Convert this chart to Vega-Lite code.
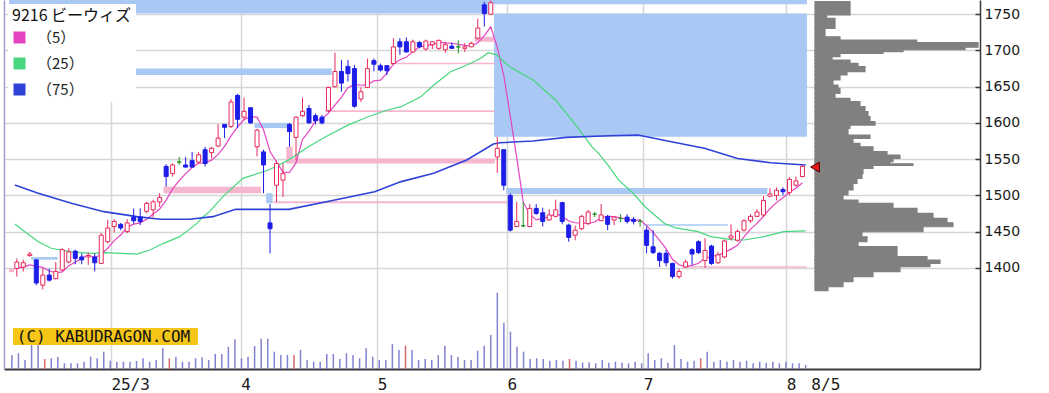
{
"$schema":"https://vega.github.io/schema/vega-lite/v6.json",
"width":976,"height":369,
"autosize":{"type":"none"},
"padding":{"left":4,"top":0,"right":69,"bottom":24},
"background":"white",
"config":{"view":{"stroke":null},"font":"DejaVu Sans"},
"datasets":{
"candles":[
{"i":0,"o":1399,"h":1413,"l":1388,"c":1408,"v":14000},
{"i":1,"o":1401,"h":1411,"l":1395,"c":1407,"v":15700},
{"i":2,"o":1417,"h":1422,"l":1415,"c":1419,"v":9000},
{"i":3,"o":1411,"h":1411,"l":1376,"c":1379,"v":24000},
{"i":4,"o":1376,"h":1399,"l":1370,"c":1390,"v":24000},
{"i":5,"o":1390,"h":1399,"l":1381,"c":1383,"v":10000,"sq":true},
{"i":6,"o":1385,"h":1408,"l":1384,"c":1395,"v":10700},
{"i":7,"o":1397,"h":1427,"l":1395,"c":1425,"v":12300},
{"i":8,"o":1408,"h":1427,"l":1406,"c":1422,"v":5700},
{"i":9,"o":1423,"h":1425,"l":1405,"c":1413,"v":5700},
{"i":10,"o":1415,"h":1420,"l":1405,"c":1411,"v":5700},
{"i":11,"o":1415,"h":1421,"l":1404,"c":1417,"v":7300},
{"i":12,"o":1415,"h":1420,"l":1395,"c":1407,"v":12300},
{"i":13,"o":1406,"h":1448,"l":1405,"c":1445,"v":10700},
{"i":14,"o":1436,"h":1466,"l":1434,"c":1455,"v":17300},
{"i":15,"o":1457,"h":1467,"l":1449,"c":1464,"v":8300},
{"i":16,"o":1460,"h":1462,"l":1452,"c":1455,"v":7300},
{"i":17,"o":1450,"h":1467,"l":1448,"c":1462,"v":7300},
{"i":18,"o":1470,"h":1482,"l":1461,"c":1465,"v":7300},
{"i":19,"o":1470,"h":1482,"l":1459,"c":1464,"v":8000},
{"i":20,"o":1478,"h":1491,"l":1475,"c":1489,"v":10700},
{"i":21,"o":1480,"h":1494,"l":1470,"c":1491,"v":7300},
{"i":22,"o":1491,"h":1503,"l":1484,"c":1497,"v":9000},
{"i":23,"o":1540,"h":1543,"l":1512,"c":1526,"v":20700},
{"i":24,"o":1530,"h":1544,"l":1526,"c":1542,"v":10700,"sq":true},
{"i":25,"o":1546,"h":1553,"l":1542,"c":1546,"v":12300},
{"i":26,"o":1542,"h":1553,"l":1539,"c":1539,"v":7300},
{"i":27,"o":1548,"h":1560,"l":1539,"c":1539,"v":7300},
{"i":28,"o":1546,"h":1560,"l":1544,"c":1556,"v":10700},
{"i":29,"o":1563,"h":1567,"l":1540,"c":1544,"v":11700},
{"i":30,"o":1559,"h":1567,"l":1551,"c":1565,"v":9000},
{"i":31,"o":1568,"h":1598,"l":1567,"c":1579,"v":15000},
{"i":32,"o":1598,"h":1598,"l":1579,"c":1594,"v":15000},
{"i":33,"o":1595,"h":1633,"l":1593,"c":1629,"v":22300},
{"i":34,"o":1638,"h":1640,"l":1593,"c":1605,"v":29700},
{"i":35,"o":1608,"h":1635,"l":1604,"c":1616,"v":10700},
{"i":36,"o":1621,"h":1621,"l":1599,"c":1600,"v":12300},
{"i":37,"o":1567,"h":1592,"l":1554,"c":1590,"v":23000},
{"i":38,"o":1560,"h":1563,"l":1503,"c":1542,"v":30300},
{"i":39,"o":1462,"h":1488,"l":1420,"c":1454,"v":30300},
{"i":40,"o":1514,"h":1548,"l":1491,"c":1544,"v":17300},
{"i":41,"o":1521,"h":1544,"l":1498,"c":1530,"v":14000},
{"i":42,"o":1598,"h":1600,"l":1567,"c":1588,"v":14000},
{"i":43,"o":1580,"h":1609,"l":1549,"c":1608,"v":14000,"sq":true},
{"i":44,"o":1610,"h":1635,"l":1608,"c":1616,"v":19000},
{"i":45,"o":1620,"h":1625,"l":1599,"c":1600,"v":9000},
{"i":46,"o":1610,"h":1613,"l":1598,"c":1603,"v":7300},
{"i":47,"o":1608,"h":1611,"l":1598,"c":1600,"v":7300},
{"i":48,"o":1617,"h":1650,"l":1615,"c":1649,"v":15000},
{"i":49,"o":1650,"h":1697,"l":1649,"c":1671,"v":15000},
{"i":50,"o":1671,"h":1687,"l":1643,"c":1655,"v":10000},
{"i":51,"o":1678,"h":1687,"l":1657,"c":1668,"v":15700},
{"i":52,"o":1675,"h":1680,"l":1621,"c":1623,"v":14000},
{"i":53,"o":1633,"h":1649,"l":1629,"c":1643,"v":10700},
{"i":54,"o":1649,"h":1689,"l":1648,"c":1675,"v":20700},
{"i":55,"o":1686,"h":1689,"l":1671,"c":1681,"v":12300},
{"i":56,"o":1679,"h":1682,"l":1671,"c":1673,"v":9000},
{"i":57,"o":1679,"h":1680,"l":1666,"c":1672,"v":9000},
{"i":58,"o":1682,"h":1717,"l":1680,"c":1705,"v":25000},
{"i":59,"o":1712,"h":1717,"l":1694,"c":1705,"v":19000},
{"i":60,"o":1712,"h":1718,"l":1697,"c":1698,"v":23300,"sq":true},
{"i":61,"o":1698,"h":1715,"l":1697,"c":1712,"v":19000},
{"i":62,"o":1711,"h":1713,"l":1703,"c":1705,"v":9000},
{"i":63,"o":1702,"h":1715,"l":1700,"c":1713,"v":10000},
{"i":64,"o":1708,"h":1713,"l":1702,"c":1712,"v":9000},
{"i":65,"o":1703,"h":1715,"l":1701,"c":1714,"v":14000},
{"i":66,"o":1701,"h":1712,"l":1697,"c":1708,"v":23300},
{"i":67,"o":1706,"h":1711,"l":1703,"c":1703,"v":14000},
{"i":68,"o":1705,"h":1714,"l":1696,"c":1705,"v":12300},
{"i":69,"o":1703,"h":1710,"l":1698,"c":1705,"v":9000},
{"i":70,"o":1705,"h":1712,"l":1705,"c":1710,"v":9000},
{"i":71,"o":1717,"h":1744,"l":1715,"c":1731,"v":18300},
{"i":72,"o":1763,"h":1767,"l":1733,"c":1751,"v":23300},
{"i":73,"o":1750,"h":1769,"l":1750,"c":1766,"v":34000},
{"i":74,"o":1553,"h":1581,"l":1531,"c":1565,"v":76300},
{"i":75,"o":1563,"h":1563,"l":1507,"c":1514,"v":46300},
{"i":76,"o":1500,"h":1503,"l":1450,"c":1452,"v":37300},
{"i":77,"o":1457,"h":1491,"l":1456,"c":1464,"v":22300},
{"i":78,"o":1458,"h":1491,"l":1456,"c":1458,"v":17300},
{"i":79,"o":1457,"h":1488,"l":1456,"c":1482,"v":10000},
{"i":80,"o":1482,"h":1488,"l":1473,"c":1475,"v":10700},
{"i":81,"o":1476,"h":1483,"l":1457,"c":1464,"v":10000},
{"i":82,"o":1466,"h":1481,"l":1465,"c":1473,"v":8300},
{"i":83,"o":1471,"h":1494,"l":1470,"c":1480,"v":9000},
{"i":84,"o":1490,"h":1491,"l":1460,"c":1464,"v":8300},
{"i":85,"o":1459,"h":1461,"l":1436,"c":1442,"v":10000,"sq":true},
{"i":86,"o":1445,"h":1458,"l":1438,"c":1452,"v":8300},
{"i":87,"o":1454,"h":1473,"l":1452,"c":1471,"v":6300},
{"i":88,"o":1461,"h":1480,"l":1459,"c":1477,"v":6700},
{"i":89,"o":1474,"h":1477,"l":1470,"c":1474,"v":5700},
{"i":90,"o":1465,"h":1488,"l":1465,"c":1473,"v":9000},
{"i":91,"o":1471,"h":1473,"l":1452,"c":1460,"v":6300},
{"i":92,"o":1466,"h":1470,"l":1459,"c":1470,"v":7300},
{"i":93,"o":1468,"h":1474,"l":1463,"c":1468,"v":6300},
{"i":94,"o":1470,"h":1474,"l":1461,"c":1464,"v":5700},
{"i":95,"o":1467,"h":1470,"l":1460,"c":1464,"v":7300},
{"i":96,"o":1464,"h":1467,"l":1457,"c":1464,"v":5700},
{"i":97,"o":1452,"h":1457,"l":1420,"c":1431,"v":15700},
{"i":98,"o":1429,"h":1452,"l":1419,"c":1421,"v":9000},
{"i":99,"o":1420,"h":1422,"l":1401,"c":1410,"v":10700},
{"i":100,"o":1420,"h":1425,"l":1402,"c":1407,"v":6300},
{"i":101,"o":1406,"h":1407,"l":1385,"c":1388,"v":24000},
{"i":102,"o":1388,"h":1399,"l":1385,"c":1395,"v":10000},
{"i":103,"o":1401,"h":1411,"l":1400,"c":1408,"v":7300},
{"i":104,"o":1425,"h":1427,"l":1404,"c":1419,"v":8300},
{"i":105,"o":1436,"h":1438,"l":1419,"c":1421,"v":10700,"sq":true},
{"i":106,"o":1410,"h":1441,"l":1400,"c":1424,"v":17300},
{"i":107,"o":1430,"h":1432,"l":1404,"c":1406,"v":7300},
{"i":108,"o":1407,"h":1422,"l":1405,"c":1418,"v":9000},
{"i":109,"o":1415,"h":1439,"l":1413,"c":1437,"v":7300},
{"i":110,"o":1441,"h":1460,"l":1438,"c":1444,"v":9000},
{"i":111,"o":1438,"h":1453,"l":1436,"c":1450,"v":7300},
{"i":112,"o":1452,"h":1467,"l":1450,"c":1465,"v":8300},
{"i":113,"o":1465,"h":1474,"l":1462,"c":1471,"v":5700},
{"i":114,"o":1471,"h":1481,"l":1470,"c":1477,"v":7300},
{"i":115,"o":1473,"h":1499,"l":1470,"c":1493,"v":6300},
{"i":116,"o":1499,"h":1510,"l":1497,"c":1502,"v":7300},
{"i":117,"o":1500,"h":1511,"l":1493,"c":1507,"v":5700},
{"i":118,"o":1508,"h":1511,"l":1500,"c":1505,"v":7300},
{"i":119,"o":1504,"h":1525,"l":1500,"c":1522,"v":5700},
{"i":120,"o":1514,"h":1526,"l":1512,"c":1520,"v":5700},
{"i":121,"o":1526,"h":1542,"l":1525,"c":1540,"v":4000}
],
"ma":[
{"s":"m5","i":0,"v":1400},{"s":"m5","i":1,"v":1401},{"s":"m5","i":2,"v":1404},{"s":"m5","i":3,"v":1402},{"s":"m5","i":4,"v":1400.6},{"s":"m5","i":5,"v":1395.6},{"s":"m5","i":6,"v":1393.2},{"s":"m5","i":7,"v":1394.4},{"s":"m5","i":8,"v":1403},{"s":"m5","i":9,"v":1407.6},
{"s":"m5","i":10,"v":1413.2},{"s":"m5","i":11,"v":1417.6},{"s":"m5","i":12,"v":1414},{"s":"m5","i":13,"v":1418.6},{"s":"m5","i":14,"v":1427},{"s":"m5","i":15,"v":1437.6},{"s":"m5","i":16,"v":1445.2},{"s":"m5","i":17,"v":1456.2},{"s":"m5","i":18,"v":1460.2},{"s":"m5","i":19,"v":1462},
{"s":"m5","i":20,"v":1467},{"s":"m5","i":21,"v":1474.2},{"s":"m5","i":22,"v":1481.2},{"s":"m5","i":23,"v":1493.4},{"s":"m5","i":24,"v":1509},{"s":"m5","i":25,"v":1520.4},{"s":"m5","i":26,"v":1530},{"s":"m5","i":27,"v":1538.4},{"s":"m5","i":28,"v":1544.4},{"s":"m5","i":29,"v":1544.8},
{"s":"m5","i":30,"v":1548.6},{"s":"m5","i":31,"v":1556.6},{"s":"m5","i":32,"v":1567.6},{"s":"m5","i":33,"v":1582.2},{"s":"m5","i":34,"v":1594.4},{"s":"m5","i":35,"v":1604.6},{"s":"m5","i":36,"v":1608.8},{"s":"m5","i":37,"v":1608},{"s":"m5","i":38,"v":1590.6},{"s":"m5","i":39,"v":1560.4},
{"s":"m5","i":40,"v":1546},{"s":"m5","i":41,"v":1532},{"s":"m5","i":42,"v":1531.6},{"s":"m5","i":43,"v":1544.8},{"s":"m5","i":44,"v":1577.2},{"s":"m5","i":45,"v":1588.4},{"s":"m5","i":46,"v":1603},{"s":"m5","i":47,"v":1605.4},{"s":"m5","i":48,"v":1613.6},{"s":"m5","i":49,"v":1624.6},
{"s":"m5","i":50,"v":1635.6},{"s":"m5","i":51,"v":1648.6},{"s":"m5","i":52,"v":1653.2},{"s":"m5","i":53,"v":1652},{"s":"m5","i":54,"v":1652.8},{"s":"m5","i":55,"v":1658},{"s":"m5","i":56,"v":1659},{"s":"m5","i":57,"v":1668.8},{"s":"m5","i":58,"v":1681.2},{"s":"m5","i":59,"v":1687.2},
{"s":"m5","i":60,"v":1690.6},{"s":"m5","i":61,"v":1698.4},{"s":"m5","i":62,"v":1705},{"s":"m5","i":63,"v":1706.6},{"s":"m5","i":64,"v":1708},{"s":"m5","i":65,"v":1711.2},{"s":"m5","i":66,"v":1710.4},{"s":"m5","i":67,"v":1710},{"s":"m5","i":68,"v":1708.4},{"s":"m5","i":69,"v":1707},
{"s":"m5","i":70,"v":1706.2},{"s":"m5","i":71,"v":1710.8},{"s":"m5","i":72,"v":1720.4},{"s":"m5","i":73,"v":1732.6},{"s":"m5","i":74,"v":1704.6},{"s":"m5","i":75,"v":1665.4},{"s":"m5","i":76,"v":1609.6},{"s":"m5","i":77,"v":1552.2},{"s":"m5","i":78,"v":1490.6},{"s":"m5","i":79,"v":1474},
{"s":"m5","i":80,"v":1466.2},{"s":"m5","i":81,"v":1468.6},{"s":"m5","i":82,"v":1470.4},{"s":"m5","i":83,"v":1474.8},{"s":"m5","i":84,"v":1471.2},{"s":"m5","i":85,"v":1464.6},{"s":"m5","i":86,"v":1462.2},{"s":"m5","i":87,"v":1461.8},{"s":"m5","i":88,"v":1461.2},{"s":"m5","i":89,"v":1463.2},
{"s":"m5","i":90,"v":1469.4},{"s":"m5","i":91,"v":1471},{"s":"m5","i":92,"v":1470.8},{"s":"m5","i":93,"v":1469},{"s":"m5","i":94,"v":1467},{"s":"m5","i":95,"v":1465.2},{"s":"m5","i":96,"v":1466},{"s":"m5","i":97,"v":1458.2},{"s":"m5","i":98,"v":1448.8},{"s":"m5","i":99,"v":1438},
{"s":"m5","i":100,"v":1426.6},{"s":"m5","i":101,"v":1411.4},{"s":"m5","i":102,"v":1404.2},{"s":"m5","i":103,"v":1401.6},{"s":"m5","i":104,"v":1403.4},{"s":"m5","i":105,"v":1406.2},{"s":"m5","i":106,"v":1413.4},{"s":"m5","i":107,"v":1415.6},{"s":"m5","i":108,"v":1417.6},{"s":"m5","i":109,"v":1421.2},
{"s":"m5","i":110,"v":1425.8},{"s":"m5","i":111,"v":1431},{"s":"m5","i":112,"v":1442.8},{"s":"m5","i":113,"v":1453.4},{"s":"m5","i":114,"v":1461.4},{"s":"m5","i":115,"v":1471.2},{"s":"m5","i":116,"v":1481.6},{"s":"m5","i":117,"v":1490},{"s":"m5","i":118,"v":1496.8},{"s":"m5","i":119,"v":1504.4},
{"s":"m5","i":120,"v":1509.8},{"s":"m5","i":121,"v":1517.4},
{"s":"m25","i":-0.3,"v":1460.5},{"s":"m25","i":1.2,"v":1450},{"s":"m25","i":3.3,"v":1436},{"s":"m25","i":5.3,"v":1427},{"s":"m25","i":8.4,"v":1422},{"s":"m25","i":11.4,"v":1420},{"s":"m25","i":13.4,"v":1421},{"s":"m25","i":16,"v":1420},{"s":"m25","i":18.5,"v":1419},{"s":"m25","i":20.5,"v":1424.6},
{"s":"m25","i":22.6,"v":1433.8},{"s":"m25","i":25.1,"v":1443},{"s":"m25","i":27.7,"v":1461},{"s":"m25","i":28.7,"v":1470.6},{"s":"m25","i":29.7,"v":1477.5},{"s":"m25","i":31.7,"v":1498},{"s":"m25","i":34.8,"v":1523.5},{"s":"m25","i":38.8,"v":1535},{"s":"m25","i":41.9,"v":1549},{"s":"m25","i":44.9,"v":1567},
{"s":"m25","i":48,"v":1583},{"s":"m25","i":51,"v":1597},{"s":"m25","i":54.1,"v":1608.6},{"s":"m25","i":57.1,"v":1617.8},{"s":"m25","i":59.2,"v":1622.4},{"s":"m25","i":60.7,"v":1629.3},{"s":"m25","i":62.2,"v":1636},{"s":"m25","i":64.2,"v":1652},{"s":"m25","i":66.8,"v":1670.7},{"s":"m25","i":69.3,"v":1680},
{"s":"m25","i":71.4,"v":1689},{"s":"m25","i":72.6,"v":1697},{"s":"m25","i":73.9,"v":1694},{"s":"m25","i":75.9,"v":1677.6},{"s":"m25","i":79.5,"v":1659.3},{"s":"m25","i":83,"v":1631.6},{"s":"m25","i":86.1,"v":1597},{"s":"m25","i":88.6,"v":1567},{"s":"m25","i":89.6,"v":1558},{"s":"m25","i":91.2,"v":1540},
{"s":"m25","i":92.7,"v":1521},{"s":"m25","i":94.7,"v":1505},{"s":"m25","i":96.8,"v":1484},{"s":"m25","i":99.8,"v":1461},{"s":"m25","i":101.5,"v":1455},{"s":"m25","i":104.9,"v":1450},{"s":"m25","i":106.9,"v":1443},{"s":"m25","i":110,"v":1439},{"s":"m25","i":112,"v":1438.4},{"s":"m25","i":115.1,"v":1443},
{"s":"m25","i":118.1,"v":1450},{"s":"m25","i":121.5,"v":1451},
{"s":"m75","i":-0.3,"v":1514.3},{"s":"m75","i":3.3,"v":1502.8},{"s":"m75","i":8.4,"v":1489},{"s":"m75","i":13.4,"v":1477.5},{"s":"m75","i":18.5,"v":1470.6},{"s":"m75","i":22.1,"v":1467},{"s":"m75","i":26.6,"v":1467},{"s":"m75","i":30.2,"v":1470.6},{"s":"m75","i":33.7,"v":1480.7},{"s":"m75","i":41.9,"v":1480.7},
{"s":"m75","i":49,"v":1493.6},{"s":"m75","i":55.1,"v":1505},{"s":"m75","i":59.2,"v":1519},{"s":"m75","i":64.2,"v":1530.5},{"s":"m75","i":69.3,"v":1548.8},{"s":"m75","i":73.4,"v":1570.9},{"s":"m75","i":74.4,"v":1572.7},{"s":"m75","i":79.5,"v":1575},{"s":"m75","i":84.6,"v":1580},{"s":"m75","i":91.2,"v":1582.3},
{"s":"m75","i":95.7,"v":1583.3},{"s":"m75","i":100.8,"v":1574},{"s":"m75","i":105.9,"v":1565},{"s":"m75","i":111,"v":1551},{"s":"m75","i":116.1,"v":1545},{"s":"m75","i":121.5,"v":1542}
],
"zones":[
{"k":"b","lo":1751,"hi":1770,"a":-1.2,"b":73.2},
{"k":"b","lo":1764,"hi":1770,"a":73.2,"b":121.7},
{"k":"b","lo":1581,"hi":1751,"a":73.5,"b":121.7},
{"k":"b","lo":1666,"hi":1675,"a":-1.2,"b":48.5},
{"k":"b","lo":1411,"hi":1415,"a":2.2,"b":6.3},
{"k":"b","lo":1593,"hi":1600,"a":36.6,"b":41.9},
{"k":"b","lo":1489,"hi":1503,"a":38.4,"b":39.4},
{"k":"b","lo":1502,"hi":1510,"a":75.4,"b":115.6},
{"k":"b","lo":1458,"hi":1460,"a":96.5,"b":109.5},
{"k":"p","lo":1394,"hi":1399,"a":-1.2,"b":-0.4},
{"k":"p","lo":1503,"hi":1512,"a":22.6,"b":37.6},
{"k":"p","lo":1544,"hi":1567,"a":41.5,"b":42.5},
{"k":"p","lo":1544,"hi":1551,"a":42.5,"b":73.6},
{"k":"p","lo":1615,"hi":1617.5,"a":47.5,"b":73.6},
{"k":"p","lo":1681,"hi":1683,"a":57.5,"b":73.6},
{"k":"p","lo":1712,"hi":1719,"a":70.5,"b":73.6},
{"k":"p","lo":1489,"hi":1492,"a":39.5,"b":75.5},
{"k":"p","lo":1400,"hi":1402,"a":102.5,"b":121.7}
],
"profile":[
{"lo":1749,"hi":1767.4,"v":35},{"lo":1744.4,"hi":1749,"v":11.7},{"lo":1730.6,"hi":1744.4,"v":20},{"lo":1719,"hi":1730.6,"v":10},{"lo":1714.5,"hi":1719,"v":25},{"lo":1711,"hi":1714.5,"v":101.7},{"lo":1704.5,"hi":1711,"v":163},{"lo":1701,"hi":1704.5,"v":150},{"lo":1698.5,"hi":1701,"v":88},{"lo":1696.1,"hi":1698.5,"v":68},
{"lo":1691.4,"hi":1696.1,"v":25},{"lo":1686.9,"hi":1691.4,"v":17},{"lo":1682.3,"hi":1686.9,"v":35},{"lo":1677.6,"hi":1682.3,"v":43},{"lo":1670.7,"hi":1677.6,"v":50},{"lo":1666.2,"hi":1670.7,"v":32},{"lo":1659.3,"hi":1666.2,"v":25},{"lo":1652.3,"hi":1659.3,"v":18},{"lo":1647.8,"hi":1652.3,"v":23},{"lo":1640.9,"hi":1647.8,"v":25},
{"lo":1634,"hi":1640.9,"v":20},{"lo":1629.3,"hi":1634,"v":35},{"lo":1622.4,"hi":1629.3,"v":45},{"lo":1615.5,"hi":1622.4,"v":50},{"lo":1608.6,"hi":1615.5,"v":53},{"lo":1601.7,"hi":1608.6,"v":55},{"lo":1597.1,"hi":1601.7,"v":60},{"lo":1592.6,"hi":1597.1,"v":35},{"lo":1583.3,"hi":1592.6,"v":33},{"lo":1578.8,"hi":1583.3,"v":55},
{"lo":1571.9,"hi":1578.8,"v":38},{"lo":1567.1,"hi":1571.9,"v":45},{"lo":1560.3,"hi":1567.1,"v":58},{"lo":1555.7,"hi":1560.3,"v":72},{"lo":1551.1,"hi":1555.7,"v":85},{"lo":1546.5,"hi":1551.1,"v":78},{"lo":1543.5,"hi":1546.5,"v":75},{"lo":1541.5,"hi":1543.5,"v":98},{"lo":1537.3,"hi":1541.5,"v":58},{"lo":1530.4,"hi":1537.3,"v":48},
{"lo":1523.5,"hi":1530.4,"v":47},{"lo":1516.6,"hi":1523.5,"v":42},{"lo":1507.4,"hi":1516.6,"v":38},{"lo":1500.5,"hi":1507.4,"v":33},{"lo":1493.6,"hi":1500.5,"v":28},{"lo":1489,"hi":1493.6,"v":43},{"lo":1482.1,"hi":1489,"v":78},{"lo":1475.2,"hi":1482.1,"v":102},{"lo":1468.3,"hi":1475.2,"v":118},{"lo":1462.2,"hi":1468.3,"v":132},
{"lo":1456.7,"hi":1462.2,"v":138},{"lo":1449.8,"hi":1456.7,"v":108},{"lo":1442.9,"hi":1449.8,"v":47},{"lo":1436,"hi":1442.9,"v":52},{"lo":1429.1,"hi":1436,"v":43},{"lo":1424.6,"hi":1429.1,"v":82},{"lo":1415.3,"hi":1424.6,"v":82},{"lo":1410.7,"hi":1415.3,"v":112},{"lo":1406.2,"hi":1410.7,"v":125},{"lo":1401.5,"hi":1406.2,"v":115},
{"lo":1394.6,"hi":1401.5,"v":85},{"lo":1387.7,"hi":1394.6,"v":58},{"lo":1380.8,"hi":1387.7,"v":38},{"lo":1373.9,"hi":1380.8,"v":28},{"lo":1368.4,"hi":1373.9,"v":13}
]
},
"layer":[
{
"data":{"name":"candles"},
"mark":{"type":"rule","strokeWidth":1.5},
"encoding":{
"x":{"field":"i","type":"quantitative","scale":{"domain":[-1.204,147.58],"nice":false,"zero":false},"axis":null},
"y":{"field":"v","type":"quantitative","scale":{"domain":[0,369000],"nice":false,"zero":false},"axis":{"orient":"left","labels":false,"ticks":false,"grid":false,"domain":true,"domainColor":"#9d9dd2","domainWidth":1.5,"title":null}},
"y2":{"datum":0},
"color":{"condition":{"test":"datum.sq","value":"#d46a6a"},"value":"#8282d2"}
}
},
{
"layer":[
{
"data":{"name":"zones"},
"mark":{"type":"rect"},
"encoding":{
"x":{"field":"a","type":"quantitative","scale":{"domain":[-1.204,147.58],"nice":false,"zero":false},"title":null,
"axis":{"orient":"bottom","values":[14.5,34.5,55.5,75.5,96.5,118.5,122.3],"labelExpr":"datum.value == 14.5 ? '25/3' : datum.value == 34.5 ? '4' : datum.value == 55.5 ? '5' : datum.value == 75.5 ? '6' : datum.value == 96.5 ? '7' : datum.value == 118.5 ? '8' : '8/5'","grid":true,"gridColor":{"condition":{"test":"datum.value > 120","value":"rgba(0,0,0,0)"},"value":"#d6d6d6"},"gridWidth":1.5,"ticks":false,"tickSize":0,"domainColor":"#3a3a3a","domainWidth":2,"labelAlign":"left","labelPadding":7,"labelFont":"DejaVu Sans Mono","labelFontSize":16,"labelColor":"#1a1a1a","labelBound":false,"labelOverlap":false,"labelFlush":false,"title":null}},
"x2":{"field":"b"},
"y":{"field":"lo","type":"quantitative","scale":{"domain":[1260.3,1769.7],"nice":false,"zero":false},"title":null,
"axis":{"orient":"right","values":[1400,1450,1500,1550,1600,1650,1700,1750],"format":"d","grid":true,"gridColor":"#d6d6d6","gridWidth":1.5,"domainColor":"#3a3a3a","domainWidth":1.5,"tickColor":"#3a3a3a","tickSize":-5,"tickWidth":1.5,"labelPadding":9,"labelFont":"DejaVu Sans","labelFontSize":14,"labelColor":"#1a1a1a","title":null}},
"y2":{"field":"hi"},
"color":{"condition":{"test":"datum.k == 'b'","value":"#a9c9f4"},"value":"#f5b6cf"}
}
},
{
"data":{"values":[{"t":"(C) KABUDRAGON.COM"}]},
"mark":{"type":"rect","color":"#f5c518"},
"encoding":{
"x":{"datum":-0.6,"type":"quantitative","scale":{"domain":[-1.204,147.58],"nice":false,"zero":false},"title":null},
"x2":{"datum":27.9},
"y":{"datum":1293.4,"type":"quantitative","scale":{"domain":[1260.3,1769.7],"nice":false,"zero":false},"title":null},
"y2":{"datum":1316.9}
}
},
{
"data":{"values":[{"t":"(C) KABUDRAGON.COM"}]},
"mark":{"type":"text","align":"left","baseline":"middle","font":"DejaVu Sans Mono","fontSize":16,"color":"#111111"},
"encoding":{
"x":{"datum":0,"type":"quantitative","scale":{"domain":[-1.204,147.58],"nice":false,"zero":false},"title":null},
"y":{"datum":1305,"type":"quantitative","scale":{"domain":[1260.3,1769.7],"nice":false,"zero":false},"title":null},
"text":{"field":"t"}
}
},
{
"data":{"name":"ma"},
"mark":{"type":"line","interpolate":"linear"},
"encoding":{
"x":{"field":"i","type":"quantitative","scale":{"domain":[-1.204,147.58],"nice":false,"zero":false},"title":null},
"y":{"field":"v","type":"quantitative","scale":{"domain":[1260.3,1769.7],"nice":false,"zero":false},"title":null},
"color":{"field":"s","type":"nominal","scale":{"domain":["m5","m25","m75"],"range":["#e444c2","#48d67e","#2e42d8"]},
"legend":{"title":"9216 ビーウィズ","orient":"top-left","offset":4,"padding":4,"fillColor":"#ffffff","symbolType":"square","symbolSize":144,"symbolStrokeWidth":0,"labelExpr":"datum.value == 'm5' ? '（5）' : datum.value == 'm25' ? '（25）' : '（75）'","labelFont":"Noto Sans CJK JP","labelFontSize":15,"labelColor":"#222222","labelOffset":10,"rowPadding":10,"titleFont":"Noto Sans CJK JP","titleFontSize":16,"titleFontWeight":"normal","titleColor":"#111111","titlePadding":6,
"encode":{"symbols":{"update":{"fill":{"scale":"color","field":"value"},"fillOpacity":{"value":1},"strokeWidth":{"value":0}}}}}},
"strokeWidth":{"condition":{"test":"datum.s == 'm75'","value":1.6},"value":1.2}
}
},
{
"data":{"name":"candles"},
"mark":{"type":"rule","strokeWidth":1},
"encoding":{
"x":{"field":"i","type":"quantitative","scale":{"domain":[-1.204,147.58],"nice":false,"zero":false},"title":null},
"y":{"field":"l","type":"quantitative","scale":{"domain":[1260.3,1769.7],"nice":false,"zero":false},"title":null},
"y2":{"field":"h"},
"color":{"condition":[{"test":"datum.c > datum.o","value":"#e8285a"},{"test":"datum.c < datum.o","value":"#1d1de8"}],"value":"#1f8f1f"}
}
},
{
"data":{"name":"candles"},
"mark":{"type":"bar","width":4,"strokeWidth":1},
"encoding":{
"x":{"field":"i","type":"quantitative","scale":{"domain":[-1.204,147.58],"nice":false,"zero":false},"title":null},
"y":{"field":"o","type":"quantitative","scale":{"domain":[1260.3,1769.7],"nice":false,"zero":false},"title":null},
"y2":{"field":"c"},
"stroke":{"condition":[{"test":"datum.c > datum.o","value":"#e8285a"},{"test":"datum.c < datum.o","value":"#1d1de8"}],"value":"#1f8f1f"},
"fill":{"condition":[{"test":"datum.c > datum.o","value":"#ffffff"},{"test":"datum.c < datum.o","value":"#1d1de8"}],"value":"#1f8f1f"}
}
}
]
},
{
"layer":[
{
"data":{"name":"profile"},
"mark":{"type":"rect","fill":"#808080","stroke":"#808080","strokeWidth":1.2,"strokeOpacity":1,"fillOpacity":1},
"encoding":{
"x":{"field":"v","type":"quantitative","scale":{"domain":[-811,165],"nice":false,"zero":false},"axis":null},
"x2":{"datum":0},
"y":{"field":"lo","type":"quantitative","scale":{"domain":[1260.3,1769.7],"nice":false,"zero":false},"axis":null},
"y2":{"field":"hi"}
}
},
{
"data":{"values":[{"p":1539}]},
"mark":{"type":"point","shape":"triangle-left","filled":true,"color":"#e81818","stroke":"#4a0000","strokeWidth":1,"size":100,"opacity":1},
"encoding":{
"x":{"datum":0,"type":"quantitative","scale":{"domain":[-811,165],"nice":false,"zero":false},"axis":null},
"y":{"field":"p","type":"quantitative","scale":{"domain":[1260.3,1769.7],"nice":false,"zero":false},"axis":null}
}
}
]
}
],
"resolve":{"scale":{"x":"independent","y":"independent"}}
}
